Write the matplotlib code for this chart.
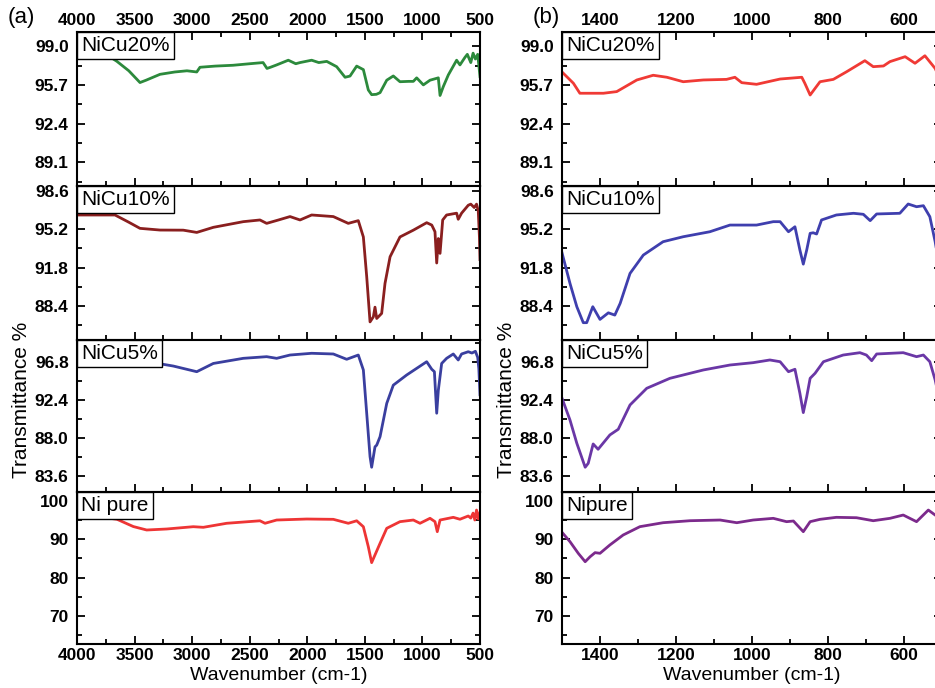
import matplotlib
matplotlib.use("Agg")
import matplotlib.pyplot as plt
from matplotlib.ticker import MultipleLocator
from matplotlib.offsetbox import AnchoredText

plt.rcParams['font.family'] = ['Liberation Sans', 'DejaVu Sans']

# ---------------- data (wavenumber, transmittance) ----------------
left_NiCu20 = [(4000, 98.6), (3850, 98.4), (3700, 98.0), (3653, 97.7), (3550, 96.9), (3453, 95.9),
               (3400, 96.1), (3279, 96.6), (3150, 96.8), (3045, 96.9), (2960, 96.8), (2932, 97.2),
               (2800, 97.3), (2645, 97.37), (2500, 97.5), (2384, 97.6), (2350, 97.1), (2320, 97.2),
               (2266, 97.4), (2165, 97.8), (2100, 97.5), (2063, 97.6), (1962, 97.8), (1900, 97.6),
               (1831, 97.7), (1745, 97.25), (1672, 96.35), (1629, 96.45), (1571, 97.3), (1513, 97.0),
               (1470, 95.27), (1441, 94.87), (1400, 94.9), (1368, 95.04), (1310, 96.1), (1253, 96.46),
               (1195, 95.97), (1120, 96.0), (1079, 96.0), (1050, 96.3), (992, 95.7), (934, 96.1),
               (862, 96.3), (847, 94.8), (819, 95.55), (775, 96.55), (703, 97.8), (674, 97.4),
               (630, 98.05), (610, 98.3), (580, 97.6), (560, 98.4), (540, 97.9), (520, 98.3), (500, 96.4)]

left_NiCu10 = [(4000, 96.44), (3800, 96.44), (3670, 96.44), (3550, 95.8), (3453, 95.26), (3279, 95.11),
               (3077, 95.1), (2960, 94.9), (2816, 95.35), (2556, 95.85), (2411, 96.0), (2353, 95.7),
               (2250, 96.0), (2150, 96.3), (2063, 96.0), (1962, 96.44), (1774, 96.3), (1644, 95.7),
               (1557, 95.94), (1513, 94.5), (1484, 91.0), (1455, 87.0), (1426, 87.45), (1412, 88.3),
               (1397, 87.3), (1354, 87.75), (1325, 90.4), (1281, 92.75), (1195, 94.5), (1079, 95.1),
               (963, 95.76), (919, 95.55), (891, 94.96), (876, 92.2), (862, 94.36), (847, 93.05),
               (824, 96.0), (790, 96.44), (703, 96.6), (689, 96.06), (660, 96.6), (602, 97.3),
               (580, 97.4), (550, 97.1), (530, 97.4), (515, 96.8), (505, 94.5), (500, 92.5)]

left_NiCu5 = [(4000, 96.9), (3600, 96.8), (3296, 96.6), (3163, 96.3), (2960, 95.65), (2816, 96.6),
              (2556, 97.19), (2353, 97.38), (2266, 97.19), (2150, 97.57), (1962, 97.77), (1774, 97.69),
              (1658, 97.08), (1557, 97.57), (1513, 95.85), (1484, 90.87), (1455, 85.87), (1441, 84.65),
              (1412, 87.0), (1397, 87.2), (1368, 88.17), (1310, 92.0), (1253, 94.1), (1137, 95.27),
              (963, 96.8), (919, 95.93), (896, 95.65), (876, 90.87), (862, 93.5), (833, 96.6),
              (790, 97.19), (732, 97.69), (689, 97.0), (660, 97.69), (602, 97.95), (570, 97.8),
              (540, 98.0), (520, 97.3), (510, 96.0), (500, 93.0)]

left_Ni = [(4000, 96.0), (3800, 95.8), (3653, 95.2), (3511, 93.3), (3395, 92.4), (3221, 92.66),
           (2990, 93.26), (2903, 93.1), (2700, 94.15), (2411, 94.8), (2367, 94.15), (2266, 95.0),
           (2005, 95.26), (1774, 95.18), (1644, 94.15), (1571, 94.8), (1513, 93.25), (1470, 88.05),
           (1441, 83.9), (1412, 85.9), (1368, 88.93), (1310, 92.84), (1195, 94.57), (1079, 95.0),
           (1021, 94.15), (934, 95.45), (891, 94.57), (871, 91.96), (847, 95.0), (732, 95.7),
           (674, 95.2), (602, 96.05), (580, 95.5), (560, 96.8), (545, 95.0), (530, 97.6),
           (515, 95.3), (500, 97.0)]

right_NiCu20 = [(1500, 96.8), (1470, 95.84), (1453, 94.99), (1391, 94.99), (1356, 95.13), (1303, 96.12),
                (1260, 96.52), (1224, 96.35), (1181, 95.97), (1128, 96.12), (1067, 96.17), (1045, 96.35),
                (1027, 95.89), (988, 95.75), (926, 96.2), (869, 96.35), (861, 95.84), (847, 94.84),
                (821, 95.97), (786, 96.17), (751, 96.82), (703, 97.76), (681, 97.25), (654, 97.31),
                (637, 97.68), (597, 98.1), (571, 97.54), (545, 98.18), (518, 97.1), (500, 95.8)]

right_NiCu10 = [(1500, 93.1), (1479, 90.4), (1461, 88.34), (1444, 86.93), (1435, 86.93), (1419, 88.34),
                (1400, 87.22), (1378, 87.8), (1361, 87.6), (1347, 88.63), (1321, 91.28), (1286, 92.9),
                (1234, 94.08), (1181, 94.52), (1111, 94.96), (1058, 95.55), (988, 95.55), (944, 95.85),
                (926, 95.85), (904, 94.96), (887, 95.4), (874, 93.35), (865, 92.1), (856, 93.35),
                (847, 94.82), (839, 94.87), (830, 94.76), (817, 96.0), (778, 96.44), (733, 96.59),
                (707, 96.5), (689, 95.94), (672, 96.53), (611, 96.59), (589, 97.41), (567, 97.17),
                (549, 97.26), (532, 96.29), (518, 94.08), (500, 90.5)]

right_NiCu5 = [(1500, 92.6), (1479, 90.09), (1461, 87.41), (1439, 84.65), (1431, 85.1), (1418, 87.33),
               (1405, 86.72), (1374, 88.37), (1352, 89.02), (1321, 91.82), (1277, 93.74), (1216, 94.89),
               (1128, 95.85), (1058, 96.42), (997, 96.69), (953, 97.0), (926, 96.8), (904, 95.65),
               (887, 95.93), (874, 93.17), (865, 90.94), (856, 92.78), (847, 94.89), (834, 95.47),
               (812, 96.8), (760, 97.57), (716, 97.84), (699, 97.57), (685, 96.92), (672, 97.69),
               (602, 97.84), (567, 97.38), (549, 97.57), (532, 96.8), (518, 94.7), (500, 91.0)]

right_Ni = [(1500, 91.8), (1479, 89.36), (1457, 86.3), (1439, 84.14), (1426, 85.44), (1413, 86.5),
            (1400, 86.33), (1374, 88.5), (1339, 91.1), (1295, 93.27), (1234, 94.3), (1163, 94.82),
            (1084, 95.0), (1040, 94.3), (997, 95.0), (944, 95.44), (909, 94.57), (891, 94.74),
            (865, 91.96), (847, 94.57), (821, 95.18), (778, 95.7), (725, 95.6), (681, 94.82),
            (637, 95.44), (602, 96.3), (567, 94.57), (536, 97.6), (518, 96.3), (500, 95.0)]

labels_left = ["NiCu20%", "NiCu10%", "NiCu5%", "Ni pure"]
labels_right = ["NiCu20%", "NiCu10%", "NiCu5%", "Nipure"]
colors_left = ["#2c8a3c", "#8a1f1f", "#3a3f9f", "#ee3535"]
colors_right = ["#f03a35", "#3f3fae", "#6a37a6", "#7c2a8c"]

ylims = [(87.1, 100.2), (85.4, 99.0), (81.8, 99.3), (62.7, 102.3)]
yticks = [[89.1, 92.4, 95.7, 99.0], [88.4, 91.8, 95.2, 98.6], [83.6, 88.0, 92.4, 96.8], [70, 80, 90, 100]]
yminor = [1.65, 1.7, 2.2, 5]

left_data = [left_NiCu20, left_NiCu10, left_NiCu5, left_Ni]
right_data = [right_NiCu20, right_NiCu10, right_NiCu5, right_Ni]

# ---------------- layout ----------------
W, H = 935, 688
fig = plt.figure(figsize=(W / 100, H / 100), dpi=100)
row_edges = [32, 186, 340, 492, 644]
cols = [dict(x0=77, x1=480, xlim=(4000, 500), major=500, minor=250, data=left_data,
             labels=labels_left, colors=colors_left, tag="(a)", tagx=21),
        dict(x0=562, x1=942, xlim=(1500, 500), major=200, minor=100, data=right_data,
             labels=labels_right, colors=colors_right, tag="(b)", tagx=546)]

tick_fs = 12.5
for c in cols:
    for i in range(4):
        top, bot = row_edges[i], row_edges[i + 1]
        ax = fig.add_axes([c['x0'] / W, 1 - bot / H, (c['x1'] - c['x0']) / W, (bot - top) / H])
        wn, tr = zip(*c['data'][i])
        ax.plot(wn, tr, color=c['colors'][i], lw=2.0, solid_joinstyle='round')
        ax.set_xlim(*c['xlim'])
        ax.set_ylim(*ylims[i])
        for s in ax.spines.values():
            s.set_linewidth(1.5)
        ax.xaxis.set_major_locator(MultipleLocator(c['major']))
        ax.xaxis.set_minor_locator(MultipleLocator(c['minor']))
        ax.set_yticks(yticks[i])
        if i < 3:
            ax.set_yticklabels([f"{v:.1f}" for v in yticks[i]])
        else:
            ax.set_yticklabels([f"{v:d}" for v in yticks[i]])
        ax.yaxis.set_minor_locator(MultipleLocator(yminor[i]))
        ax.tick_params(axis='y', which='both', direction='in', left=True, right=True,
                       labelsize=tick_fs, pad=6, width=1.3)
        ax.tick_params(axis='y', which='major', length=6)
        ax.tick_params(axis='y', which='minor', length=3.5)
        ax.tick_params(axis='x', which='both', direction='in', top=(i == 0), bottom=True,
                       labeltop=(i == 0), labelbottom=(i == 3), labelsize=tick_fs, pad=3, width=1.3)
        ax.tick_params(axis='x', which='major', length=6)
        ax.tick_params(axis='x', which='minor', length=3.5)
        for lab in ax.get_xticklabels() + ax.get_yticklabels():
            lab.set_fontweight('bold')
        at = AnchoredText(c['labels'][i], loc='upper left', frameon=True, pad=0.2, borderpad=0,
                          prop=dict(size=15))
        at.patch.set_boxstyle('square,pad=0')
        at.patch.set_linewidth(1.0)
        at.patch.set_edgecolor('black')
        at.zorder = 5
        ax.add_artist(at)
        if i == 3:
            ax.set_xlabel("Wavenumber (cm-1)", fontsize=14, labelpad=3)
    fig.text((c['x0'] - 55) / W, 1 - 400 / H, "Transmittance %", rotation=90, fontsize=15,
             ha='center', va='center')
    fig.text(c['tagx'] / W, 1 - 18 / H, c['tag'], fontsize=16, ha='center', va='center')

fig.savefig("out.png", dpi=100)
